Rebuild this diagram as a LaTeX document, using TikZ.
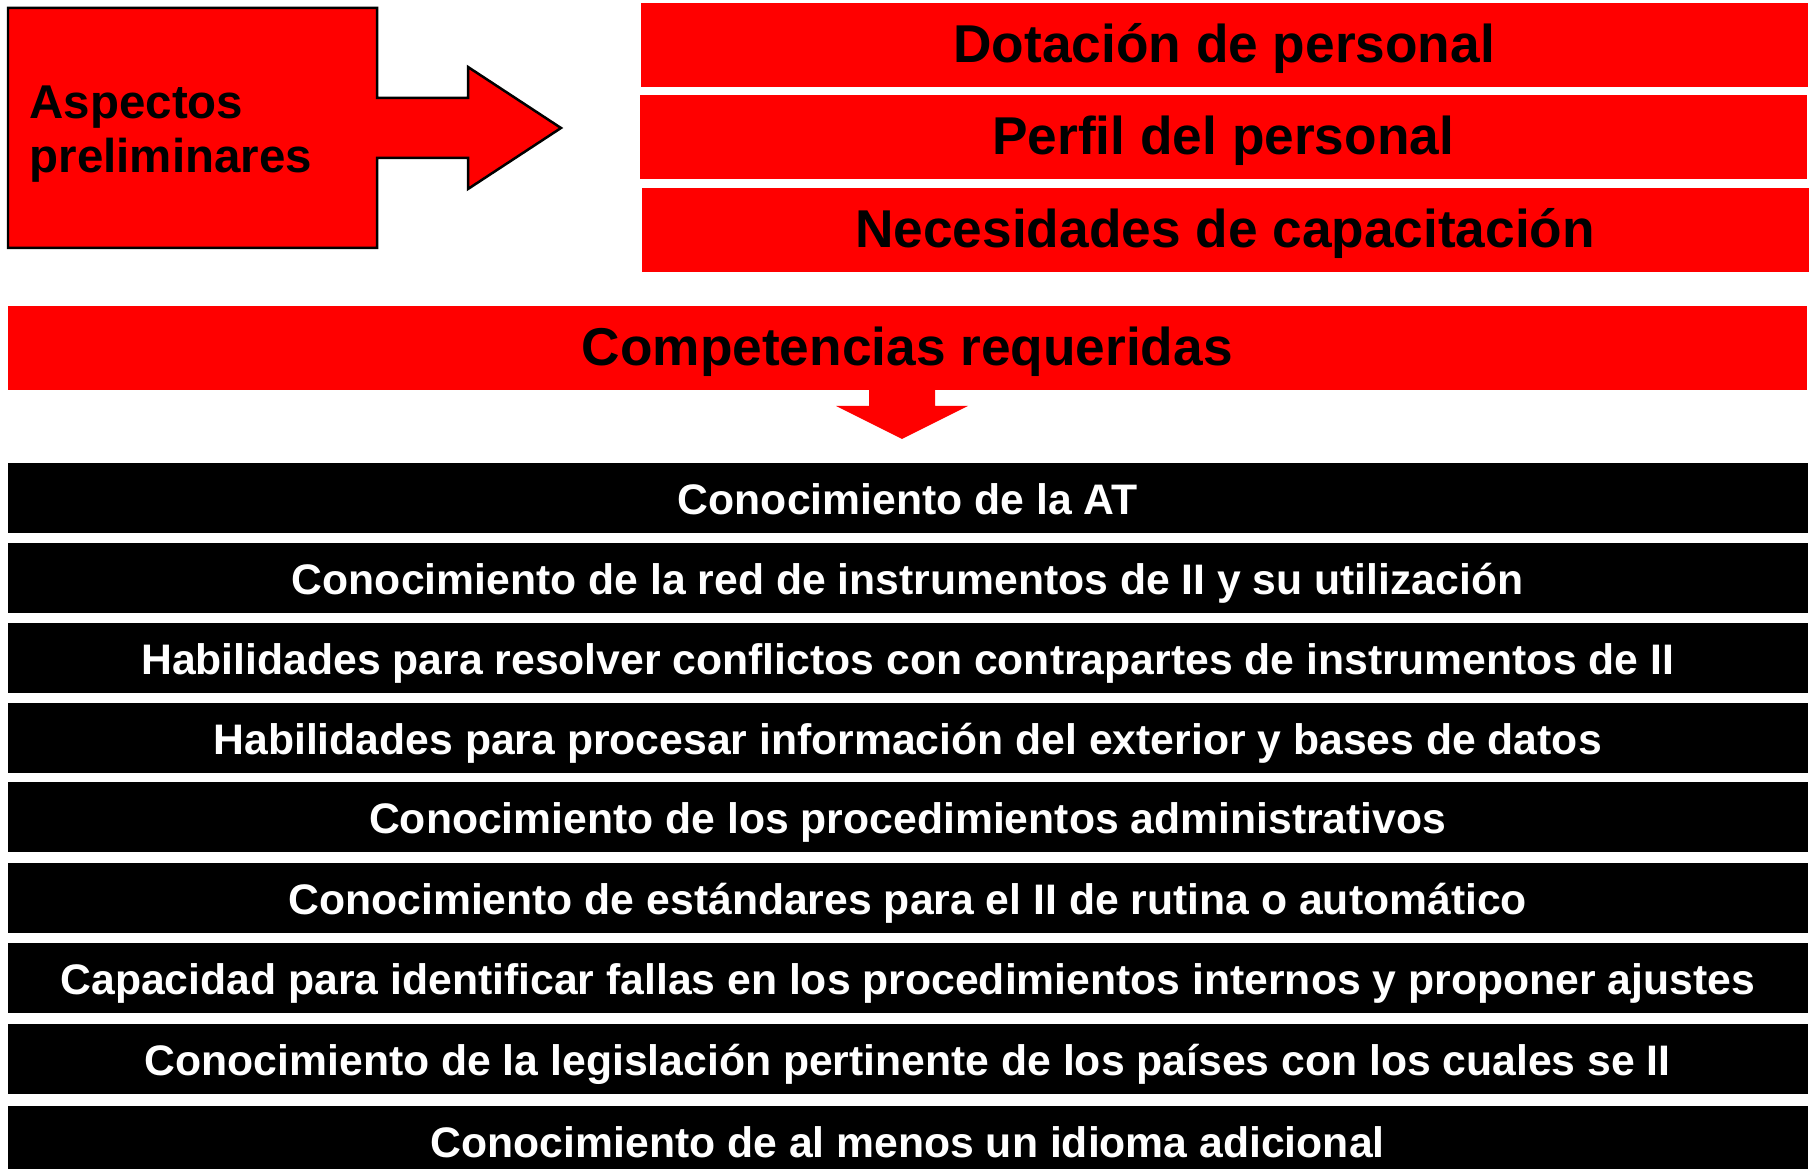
\documentclass[tikz,border=0pt]{standalone}
\usepackage{fontspec}
\setmainfont{Liberation Sans}

\tikzset{
	topbar/.style={fill=red, inner sep=0pt, anchor=north west, minimum width=116.7mm, minimum height=8.4mm,
		text height=1.02em, text depth=0pt, font=\bfseries\fontsize{15.15}{18}\selectfont},
	compbar/.style={fill=black, text=white, inner sep=0pt, anchor=north west, minimum width=180mm, minimum height=7mm,
		text height=0.96em, text depth=0pt, font=\bfseries\fontsize{12.15}{14}\selectfont},
}

\begin{document}
\begin{tikzpicture}[x=0.1mm, y=-0.1mm]
		%%%%% START %%%%%
		\useasboundingbox (0, 0) rectangle (1810, 1169);
		
		% box and arrow in one outline
		\draw[line width=0.25mm, fill=red] (8, 8) -- (377, 8) -- (377, 98) -- (468, 98) -- (468, 67) -- (561, 128)
			-- (468, 189) -- (468, 158) -- (377, 158) -- (377, 248) -- (8, 248) -- cycle;
		\node[anchor=west, align=left, inner sep=0pt, font=\bfseries\fontsize{13.5}{15.4}\selectfont] (aspectos) at (29, 134) {Aspectos\\preliminares};
		
		\node[topbar] (dotacion) at (640, 2) {Dotación de personal};
		\node[topbar] (perfil) at (639, 94) {Perfil del personal};
		\node[topbar] (necesidades) at (641, 187) {Necesidades de capacitación};
		
		\node[topbar, minimum width=179.9mm] (competencias) at (7, 305) {Competencias requeridas};
		\fill[red] (869, 388) -- (935, 388) -- (935, 406) -- (968, 406) -- (902, 439) -- (836, 406) -- (869, 406) -- cycle;
		
		\foreach \y/\txt [count=\i] in {
			462/Conocimiento de la AT,
			542/Conocimiento de la red de instrumentos de II y su utilización,
			622/Habilidades para resolver conflictos con contrapartes de instrumentos de II,
			702/Habilidades para procesar información del exterior y bases de datos,
			781/Conocimiento de los procedimientos administrativos,
			862/Conocimiento de estándares para el II de rutina o automático,
			942/Capacidad para identificar fallas en los procedimientos internos y proponer ajustes,
			1023/Conocimiento de la legislación pertinente de los países con los cuales se II,
			1105/Conocimiento de al menos un idioma adicional}
			\node[compbar] (comp\i) at (7, \y) {\txt};
		
		%%%%% END %%%%%
\end{tikzpicture}
\end{document}
